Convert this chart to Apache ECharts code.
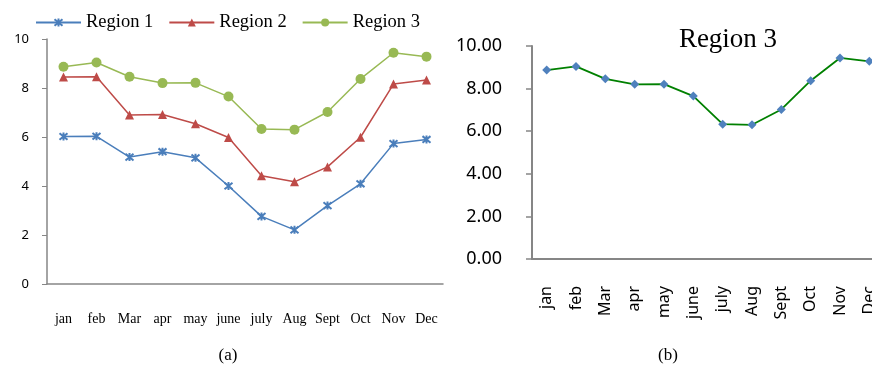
<!DOCTYPE html>
<html><head><meta charset="utf-8">
<script src="https://cdn.jsdelivr.net/npm/echarts@6/dist/echarts.min.js"></script>
<style>html,body{margin:0;padding:0;background:#fff;overflow:hidden}#c{width:884px;height:372px}</style>
</head><body><div id="c"></div>
<script>
const months = ['jan','feb','Mar','apr','may','june','july','Aug','Sept','Oct','Nov','Dec'];
const region1 = [6.02, 6.03, 5.18, 5.4, 5.15, 4.0, 2.76, 2.21, 3.2, 4.09, 5.73, 5.9];
const region2 = [8.45, 8.46, 6.9, 6.92, 6.54, 5.98, 4.42, 4.17, 4.78, 5.99, 8.16, 8.33];
const region3 = [8.87, 9.04, 8.46, 8.2, 8.21, 7.65, 6.33, 6.3, 7.02, 8.37, 9.44, 9.28];
const yTicksA = [0, 2, 4, 6, 8, 10];
const yTicksB = [0, 2, 4, 6, 8, 10];

const gray = '#868686';
const serif = 'Liberation Serif';
const sans = 'Noto Sans';
const asterisk = 'path://M0,0 L10,10 M10,0 L0,10 M5,-1 L5,11';

const chart = echarts.init(document.getElementById('c'), null, {renderer:'canvas'});
chart.setOption({
  animation: false,
  backgroundColor: '#fff',
  title: {
    text: 'Region 3', left: 723, top: 21, textAlign: 'center',
    textStyle: {fontFamily: serif, fontSize: 27, fontWeight: 'normal', color: '#000'}
  },
  legend: {
    left: 30, top: 8, itemWidth: 45, itemHeight: 10, itemGap: 15,
    data: ['Region 1', 'Region 2', 'Region 3'],
    textStyle: {fontFamily: serif, fontSize: 18.5, color: '#000'}
  },
  grid: [
    {left: 47, top: 39, width: 396, bottom: 88, containLabel: false},
    {left: 532, top: 46, width: 352, bottom: 113, containLabel: false}
  ],
  xAxis: [
    {type: 'category', gridIndex: 0, data: months, boundaryGap: true,
     axisLine: {lineStyle: {color: gray, width: 1.5}},
     axisTick: {length: 5, lineStyle: {color: gray}},
     axisLabel: {margin: 28, interval: 0, fontFamily: serif, fontSize: 14, color: '#000'}},
    {type: 'category', gridIndex: 1, data: months, boundaryGap: true,
     axisLine: {lineStyle: {color: gray, width: 2}},
     axisTick: {length: 5, lineStyle: {color: gray, width: 1.5}},
     axisLabel: {margin: 27, interval: 0, rotate: 90, fontFamily: sans, fontSize: 16, color: '#000'}}
  ],
  yAxis: [
    {type: 'value', gridIndex: 0, min: yTicksA[0], max: yTicksA[yTicksA.length-1], interval: 2,
     axisLine: {show: true, lineStyle: {color: gray, width: 1.5}},
     axisTick: {show: true, length: 5, lineStyle: {color: gray}},
     splitLine: {show: false},
     axisLabel: {margin: 18, fontFamily: sans, fontSize: 13, color: '#000'}},
    {type: 'value', gridIndex: 1, min: yTicksB[0], max: yTicksB[yTicksB.length-1], interval: 2,
     axisLine: {show: true, lineStyle: {color: gray, width: 2}},
     axisTick: {show: true, length: 6, lineStyle: {color: gray, width: 1.5}},
     splitLine: {show: false},
     axisLabel: {margin: 30, fontFamily: sans, fontSize: 18, color: '#000',
       formatter: v => v.toFixed(2)}}
  ],
  series: [
    {name: 'Region 1', type: 'line', xAxisIndex: 0, yAxisIndex: 0, data: region1,
     symbol: asterisk, symbolSize: 8, color: '#4A7EBB',
     lineStyle: {color: '#4A7EBB', width: 1.5},
     itemStyle: {color: '#4A7EBB', borderColor: '#4A7EBB', borderWidth: 2}},
    {name: 'Region 2', type: 'line', xAxisIndex: 0, yAxisIndex: 0, data: region2,
     symbol: 'triangle', symbolSize: 9, color: '#BE4B48',
     lineStyle: {color: '#BE4B48', width: 1.5},
     itemStyle: {color: '#BE4B48'}},
    {name: 'Region 3', type: 'line', xAxisIndex: 0, yAxisIndex: 0, data: region3,
     symbol: 'circle', symbolSize: 10, color: '#98B954',
     lineStyle: {color: '#98B954', width: 1.5},
     itemStyle: {color: '#98B954'}},
    {name: 'Region 3 (b)', type: 'line', xAxisIndex: 1, yAxisIndex: 1, data: region3,
     symbol: 'diamond', symbolSize: 9,
     lineStyle: {color: '#008000', width: 1.8},
     itemStyle: {color: '#4F81BD'}}
  ],
  graphic: [
    {type: 'text', style: {text: '(a)', x: 228, y: 356, align: 'center', verticalAlign: 'middle', font: '17px "Liberation Serif"', fill: '#000'}},
    {type: 'text', style: {text: '(b)', x: 668, y: 356, align: 'center', verticalAlign: 'middle', font: '17px "Liberation Serif"', fill: '#000'}}
  ]
});
</script></body></html>
